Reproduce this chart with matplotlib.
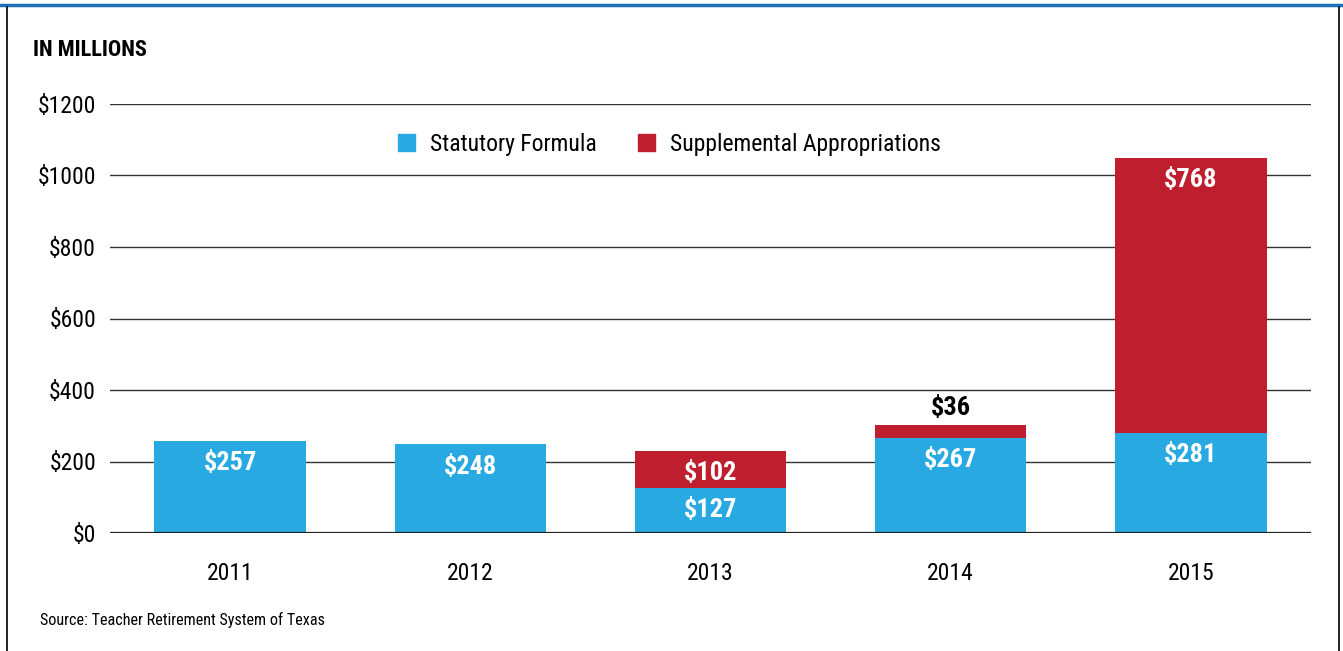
import matplotlib.pyplot as plt
from matplotlib.lines import Line2D
from matplotlib.patches import Patch

years = ["2011", "2012", "2013", "2014", "2015"]
statutory = [257, 248, 127, 267, 281]
supplemental = [0, 0, 102, 36, 768]
yticks = [0, 200, 400, 600, 800, 1000, 1200]

blue = "#29a9e1"
red = "#be1e2d"
plt.rcParams["font.family"] = ["Roboto Condensed", "Roboto", "DejaVu Sans"]

fig = plt.figure(figsize=(13.43, 6.51), dpi=100)
ax = fig.add_axes([110 / 1343, 1 - 533 / 651, 1201 / 1343, 429 / 651])

x = list(range(len(years)))
ax.bar(x, statutory, width=0.63, color=blue, zorder=2)
ax.bar(x, supplemental, width=0.63, bottom=statutory, color=red, zorder=2)

for i in x:
    ax.annotate("$%d" % statutory[i], (i, statutory[i]), xytext=(0, -16),
                textcoords="offset points", ha="center", va="center",
                color="white", fontsize=19, fontweight="bold", zorder=3)
    if supplemental[i] > 60:
        ax.annotate("$%d" % supplemental[i], (i, statutory[i] + supplemental[i]),
                    xytext=(0, -16), textcoords="offset points", ha="center",
                    va="center", color="white", fontsize=19, fontweight="bold", zorder=3)
    elif supplemental[i] > 0:
        ax.annotate("$%d" % supplemental[i], (i, statutory[i] + supplemental[i]),
                    xytext=(0, 12), textcoords="offset points", ha="center",
                    va="center", color="black", fontsize=19, fontweight="bold", zorder=3)

ax.set_xlim(-0.5, 4.5)
ax.set_ylim(0, 1200)
ax.set_yticks(yticks)
ax.set_yticklabels(["$%d" % v for v in yticks], fontsize=17)
ax.set_xticks(x)
ax.set_xticklabels(years, fontsize=17)
ax.tick_params(length=0)
ax.tick_params(axis="y", pad=10)
ax.tick_params(axis="x", pad=21)
for v in yticks[1:]:
    ax.axhline(v, color="#333333", lw=1.0, zorder=1)
ax.axhline(0, color="#222222", lw=1.6, zorder=3)
for s in ax.spines.values():
    s.set_visible(False)

handles = [Patch(color=blue, label="Statutory Formula"),
           Patch(color=red, label="Supplemental Appropriations")]
ax.legend(handles=handles, loc="center", bbox_to_anchor=(0.466, 1 - 40 / 429),
          ncol=2, frameon=False, fontsize=17, handlelength=0.7, handleheight=0.7,
          handletextpad=0.65, columnspacing=1.75)

fig.text(33 / 1343, 1 - 50 / 651, "IN MILLIONS", fontsize=16, fontweight="bold",
         va="center", ha="left")
fig.text(40 / 1343, 1 - 620 / 651, "Source: Teacher Retirement System of Texas",
         fontsize=11.6, va="center", ha="left")

# frame around the graphic
fig.add_artist(Line2D([0, 1], [1 - 5 / 651, 1 - 5 / 651], color="#1f72b8", lw=2.5))
fig.add_artist(Line2D([7 / 1343, 7 / 1343], [0, 1 - 7 / 651], color="black", lw=1.2))
fig.add_artist(Line2D([1339 / 1343, 1339 / 1343], [0, 1 - 7 / 651], color="black", lw=1.2))

fig.savefig("out.png", dpi=100)
